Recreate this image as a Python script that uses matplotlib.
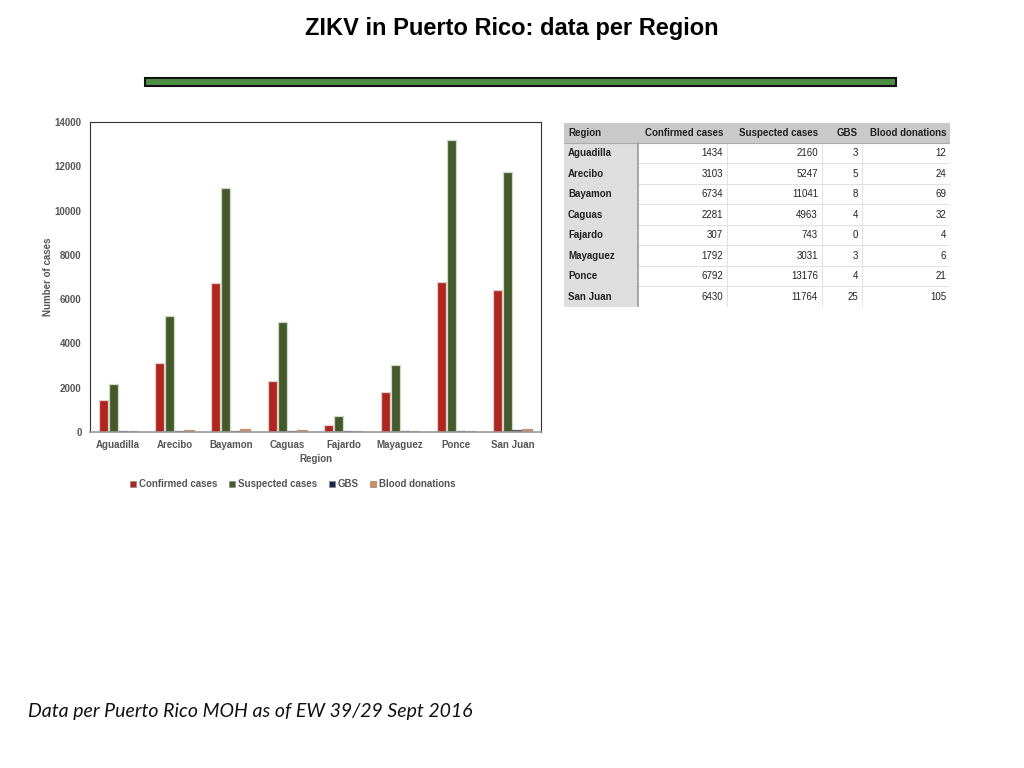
import matplotlib
matplotlib.use('Agg')
import matplotlib.pyplot as plt
from matplotlib.patches import Rectangle
import numpy as np

regions = ['Aguadilla', 'Arecibo', 'Bayamon', 'Caguas', 'Fajardo',
           'Mayaguez', 'Ponce', 'San Juan']
confirmed = [1434, 3103, 6734, 2281, 307, 1792, 6792, 6430]
suspected = [2160, 5247, 11041, 4963, 743, 3031, 13176, 11764]
gbs = [3, 5, 8, 4, 0, 3, 4, 25]
blood = [12, 24, 69, 32, 4, 6, 21, 105]

series_names = ['Confirmed cases', 'Suspected cases', 'GBS', 'Blood donations']
series_colors = ['#B0261E', '#435A2B', '#1B2350', '#D98C4E']
edge_colors = ['#e0d0d0', '#d0d8c8', '#555566', '#C89070']
yticks = [0, 2000, 4000, 6000, 8000, 10000, 12000, 14000]

W, H = 1024, 768
fig = plt.figure(figsize=(W / 100, H / 100), dpi=100)
fig.patch.set_facecolor('white')

def px_rect(x0, y0, x1, y1):
    # pixel box (top-left origin) -> figure fraction rect
    return [x0 / W, 1 - y1 / H, (x1 - x0) / W, (y1 - y0) / H]

# title and green bar
fig.text(512 / W, 1 - 29 / H, 'ZIKV in Puerto Rico: data per Region',
         ha='center', va='center', fontsize=17, fontweight='bold',
         family='Liberation Sans')
fig.patches.append(Rectangle((145 / W, 1 - 86 / H), 751 / W, 8 / H,
                             transform=fig.transFigure, facecolor='#4E8E44',
                             edgecolor='#111111', linewidth=1.5))

# bar chart
ax = fig.add_axes(px_rect(90, 122, 541, 432))
x = np.arange(len(regions))
step = 0.178
bw = 0.16
for i, (vals, name, col, ec) in enumerate(zip([confirmed, suspected, gbs, blood],
                                              series_names, series_colors,
                                              edge_colors)):
    ax.bar(x + (i - 1.5) * step, vals, width=bw, color=col, label=name,
           edgecolor=ec, linewidth=0.9 if i < 2 else 1.6)

ax.set_xlim(-0.5, len(regions) - 0.5)
ax.set_ylim(0, 14000)
ax.set_yticks(yticks)
ax.set_xticks(x)
ax.set_xticklabels(regions)
tick_font = dict(fontsize=7, fontweight='bold', color='#555555',
                 family='Liberation Sans')
for lab in ax.get_xticklabels() + ax.get_yticklabels():
    lab.set(**tick_font)
ax.tick_params(length=0, pad=6)
ax.set_xlabel('Region', fontsize=7, fontweight='bold', color='#555555',
              family='Liberation Sans', labelpad=3)
ax.set_ylabel('Number of cases', fontsize=7, fontweight='bold',
              color='#555555', family='Liberation Sans', labelpad=1)
for side in ['top', 'right', 'left']:
    ax.spines[side].set_color('#333333')
    ax.spines[side].set_linewidth(0.8)
ax.spines['bottom'].set_color('#999999')
ax.spines['bottom'].set_linewidth(1.2)

leg = ax.legend(loc='upper center', bbox_to_anchor=(0.45, -0.125), ncol=4,
                frameon=False, handlelength=0.6, handleheight=0.6,
                handletextpad=0.3, columnspacing=1.2,
                prop={'size': 7, 'weight': 'bold', 'family': 'Liberation Sans'})
for t in leg.get_texts():
    t.set_color('#555555')
for hnd in leg.legend_handles:
    hnd.set_linewidth(0.5)
    hnd.set_edgecolor('#888888')

# data table
tx = fig.add_axes(px_rect(564, 123, 950, 307))
tx.set_xlim(564, 950)
tx.set_ylim(307, 123)
tx.axis('off')

col_edges = [564, 638, 727, 822, 862, 950]
header_h = 20
row_h = (307 - 123 - header_h) / len(regions)
headers = ['Region'] + series_names

tx.add_patch(Rectangle((564, 123), 386, header_h, facecolor='#C9C9C9',
                       edgecolor='none'))
tx.add_patch(Rectangle((564, 123 + header_h), 74, 307 - 123 - header_h,
                       facecolor='#DEDEDE', edgecolor='none'))
for j, h in enumerate(headers):
    if j == 0:
        tx.text(col_edges[0] + 4, 123 + header_h / 2, h, ha='left',
                va='center', fontsize=7, fontweight='bold',
                family='Liberation Sans', color='#222222')
    else:
        tx.text(col_edges[j + 1] - 4, 123 + header_h / 2, h, ha='right',
                va='center', fontsize=7, fontweight='bold',
                family='Liberation Sans', color='#222222')

table_cols = [confirmed, suspected, gbs, blood]
for r, reg in enumerate(regions):
    yc = 123 + header_h + (r + 0.5) * row_h
    tx.text(col_edges[0] + 4, yc, reg, ha='left', va='center', fontsize=7,
            fontweight='bold', family='Liberation Sans', color='#222222')
    for j, vals in enumerate(table_cols):
        tx.text(col_edges[j + 2] - 4, yc, str(vals[r]), ha='right',
                va='center', fontsize=7, family='Liberation Sans',
                color='#222222')
    ybot = 123 + header_h + (r + 1) * row_h
    tx.plot([564, 950], [ybot, ybot], color='#DDDDDD', linewidth=0.6)
for xe in col_edges[2:-1]:
    tx.plot([xe, xe], [123 + header_h, 307], color='#DDDDDD', linewidth=0.6)
tx.plot([638, 638], [123 + header_h, 307], color='#999999', linewidth=1.2)
tx.plot([564, 950], [123 + header_h, 123 + header_h], color='#AAAAAA',
        linewidth=0.8)

# footnote
fig.text(28 / W, 1 - 712 / H, 'Data per Puerto Rico MOH as of EW 39/29 Sept 2016',
         ha='left', va='center', fontsize=14, style='italic',
         family=['Lato', 'DejaVu Sans'], color='#111111')

fig.savefig('out.png', dpi=100)
